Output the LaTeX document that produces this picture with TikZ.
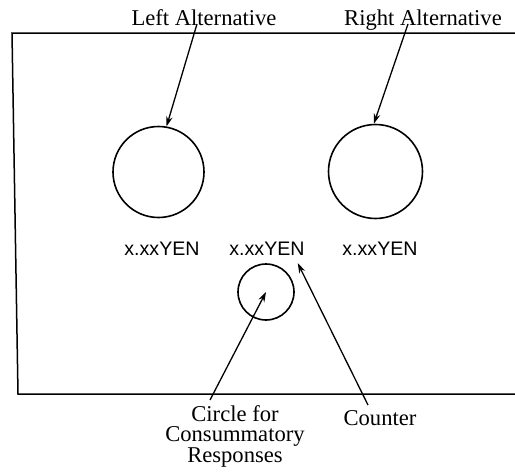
\documentclass[tikz,border=0pt]{standalone}
\usepackage{fontspec}
\setmainfont{Liberation Serif}
\newfontfamily\yenfont{Liberation Sans}
\usetikzlibrary{arrows.meta}
\begin{document}
\begin{tikzpicture}[x=1pt,y=-1pt,
  ptr/.style={-{Stealth[length=10pt,width=6.5pt]}, line width=1.3pt},
  dial/.style={circle, draw, line width=1.6pt, inner sep=0pt},
  lbl/.style={font=\fontsize{22.6}{20.5}\selectfont, inner sep=0pt},
  amt/.style={font=\yenfont\fontsize{19.6}{22}\selectfont, inner sep=0pt, anchor=base}]
\useasboundingbox (0,0) rectangle (515,474);

% panel outline, open on the right
\draw[line width=1.5pt] (515,33) -- (12,33) -- (18,394) -- (515,394);

% response circles
\node[dial, minimum size=91pt] (lc) at (158.5,172) {};
\node[dial, minimum size=94pt] (rc) at (375.5,171.5) {};
\node[dial, minimum size=56pt] (cc) at (266,292) {};

% amount read-outs
\node[amt] (yl) at (162,255) {x.xxYEN};
\node[amt] (ym) at (267,255) {x.xxYEN};
\node[amt] (yr) at (380,255) {x.xxYEN};

% captions
\node[lbl, anchor=base] (la) at (204,25) {Left Alternative};
\node[lbl, anchor=base] (ra) at (423,25) {Right Alternative};
\node[lbl, anchor=north, align=center] (cl) at (235,405) {Circle for\\Consummatory\\Responses};
\node[lbl, anchor=base] (co) at (380,425) {Counter};

% caption pointers
\coordinate (lat) at (197,24);
\coordinate (rat) at (408,24);
\coordinate (clt) at (210,400);
\coordinate (cot) at (368,405);
\draw[ptr] (lat) -- (lc.80);
\draw[ptr] (rat) -- (rc.92);
\draw[ptr] (clt) -- (cc.center);
\draw[ptr] (cot) -- ([shift={(-7,8)}]ym.south east);
\end{tikzpicture}
\end{document}
